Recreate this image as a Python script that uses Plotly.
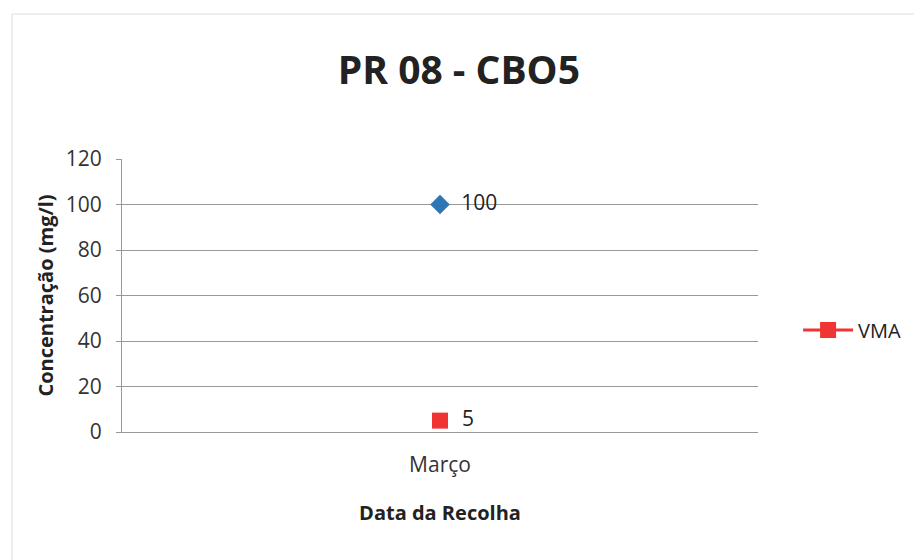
import plotly.graph_objects as go

categories = ["Março"]
cbo5_values = [100]
vma_values = [5]
y_ticks = [0, 20, 40, 60, 80, 100, 120]

font_family = "Open Sans, Liberation Sans, sans-serif"

fig = go.Figure()
fig.add_trace(go.Scatter(
    x=categories, y=cbo5_values, mode="markers+text", name="CBO5",
    marker=dict(symbol="diamond", size=15, color="#2E75B6"),
    text=["  " + str(v) for v in cbo5_values], textposition="middle right",
    textfont=dict(size=21, color="#222", family=font_family),
    showlegend=False, cliponaxis=False,
))
fig.add_trace(go.Scatter(
    x=categories, y=vma_values, mode="lines+markers+text", name="VMA",
    marker=dict(symbol="square", size=16, color="#F03434"),
    line=dict(color="#F03434", width=3),
    text=["  " + str(v) for v in vma_values], textposition="middle right",
    textfont=dict(size=21, color="#222", family=font_family),
    cliponaxis=False,
))

fig.update_layout(
    width=922, height=560,
    paper_bgcolor="white", plot_bgcolor="white",
    margin=dict(l=114, r=172, t=151, b=136, autoexpand=False),
    font=dict(family=font_family, color="#222"),
    title=dict(text="<b>PR 08 - CBO5</b>", x=0.489, xanchor="center", y=0.889, yanchor="middle",
               font=dict(size=39, color="#222", family=font_family)),
    legend=dict(x=1.063, y=0.374, xanchor="left", yanchor="middle", itemwidth=50,
                font=dict(size=20, color="#222", family=font_family), bgcolor="rgba(0,0,0,0)"),
    xaxis=dict(type="category", showgrid=False, showline=True, linecolor="#999", linewidth=1,
               ticks="", tickfont=dict(size=21, color="#333"), ticklabelstandoff=14,
               title=dict(text="<b>Data da Recolha</b>", font=dict(size=20, color="#222"), standoff=28)),
    yaxis=dict(range=[0, 120], tickvals=y_ticks, showgrid=True, gridcolor="#999", gridwidth=1,
               showline=True, linecolor="#999", linewidth=1, ticks="outside", ticklen=5, tickcolor="#999",
               zeroline=False, tickfont=dict(size=21, color="#333"), ticklabelstandoff=10,
               title=dict(text="<b>Concentração (mg/l)</b>", font=dict(size=20, color="#222"), standoff=6)),
    shapes=[dict(type="rect", xref="paper", yref="paper", x0=-0.173, x1=1.255, y0=-0.6, y1=1.531,
                 line=dict(color="#ddd", width=1), fillcolor="rgba(0,0,0,0)", layer="below")],
)

fig.write_html("out.html")
